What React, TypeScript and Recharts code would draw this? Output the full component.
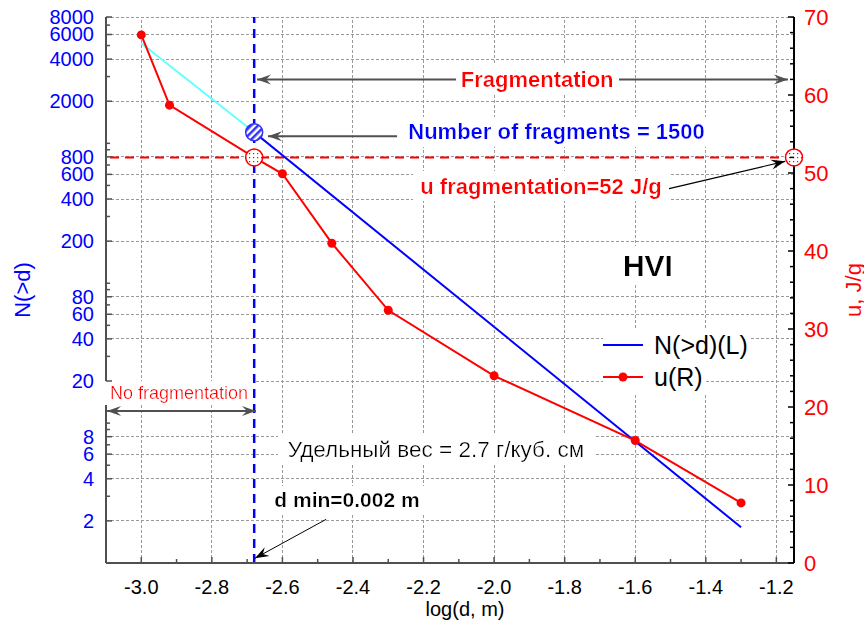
import React from "react"
import {
  Legend,
  Line,
  LineChart,
  ReferenceDot,
  ReferenceLine,
  XAxis,
  YAxis,
} from "recharts"

const FONT = "'Liberation Sans', Arial, sans-serif"
const RED = "#ff0000"
const BLUE = "#0000ff"
const CYAN = "#66ffff"
const AXIS = "#505050"
const GRID = "#9a9a9a"

// specific energy u (J/g) against log(d, m)
const uX = [-3.0, -2.92, -2.68, -2.6, -2.46, -2.3, -2.0, -1.6, -1.3]
const uValues = [67.7, 58.7, 52, 49.9, 41.0, 32.4, 24.0, 15.7, 7.7]

// cumulative number of fragments N(>d), cyan part left of d min
const nCyanX = [-3.0, -2.68]
const nCyanValues = [5200, 1200]
const nBlueX = [-2.68, -1.3]
const nBlueValues = [1200, 1.8]

const xTicks = [-3.0, -2.8, -2.6, -2.4, -2.2, -2.0, -1.8, -1.6, -1.4, -1.2]
const xMinorTicks = [-2.9, -2.7, -2.5, -2.3, -2.1, -1.9, -1.7, -1.5, -1.3]
const nTicks = [2, 4, 6, 8, 20, 40, 60, 80, 200, 400, 600, 800, 2000, 4000, 6000, 8000]
const nMinorTicks = [1, 3, 5, 7, 9, 10, 30, 50, 70, 90, 100, 300, 500, 700, 900, 1000, 3000, 5000, 7000]
const uTicks = [0, 10, 20, 30, 40, 50, 60, 70]
const uMinorTicks = [2, 4, 6, 8, 12, 14, 16, 18, 22, 24, 26, 28, 32, 34, 36, 38, 42, 44, 46, 48, 52, 54, 56, 58, 62, 64, 66, 68]

const dMin = -2.68
const uFrag = 52
const nFrag = 1200
const xEnd = -1.15

const uData = uX.map((x, i) => ({ x, u: uValues[i] }))
const cyanData = nCyanX.map((x, i) => ({ x, n: nCyanValues[i] }))
const blueData = nBlueX.map((x, i) => ({ x, n: nBlueValues[i] }))

const allX = [...xTicks, ...xMinorTicks].sort((a, b) => a - b)
const allN = [...nTicks, ...nMinorTicks].sort((a, b) => a - b)
const allU = [...uTicks, ...uMinorTicks].sort((a, b) => a - b)

// annotation arrows, in (log d, u) units of the right axis
const arrows = [
  { x1: -2.672, u1: 62, x2: -1.167, u2: 62, both: true, color: AXIS, w: 2 },
  { x1: -2.275, u1: 54.7, x2: -2.641, u2: 54.7, both: false, color: AXIS, w: 2 },
  { x1: -1.513, u1: 47.9, x2: -1.175, u2: 51.5, both: false, color: "#000", w: 1.2 },
  { x1: -3.097, u1: 19.5, x2: -2.675, u2: 19.5, both: true, color: AXIS, w: 2 },
  { x1: -2.476, u1: 5.6, x2: -2.678, u2: 0.6, both: false, color: "#000", w: 1 },
]

const notes = [
  { text: "Fragmentation", x: -1.878, u: 62, color: RED, size: 22, bold: true },
  { text: "Number of fragments = 1500", x: -1.823, u: 55.3, color: BLUE, size: 22, bold: true },
  { text: "u fragmentation=52 J/g", x: -1.867, u: 48.3, color: RED, size: 22, bold: true },
  { text: "HVI", x: -1.564, u: 38.1, color: "#000", size: 30, bold: true },
  { text: "No fragmentation", x: -2.893, u: 21.8, color: RED, size: 18, bold: false },
  { text: "Удельный вес = 2.7 г/куб. см", x: -2.165, u: 14.5, color: "#000", size: 22.5, bold: false },
  { text: "d min=0.002 m", x: -2.417, u: 8.1, color: "#000", size: 21, bold: true },
]

function BottomTick({ x, y, payload }: any) {
  const major = xTicks.includes(payload.value)
  return (
    <g>
      <line x1={x} x2={x} y1={y} y2={y - (major ? 6 : 4)} stroke={AXIS} strokeWidth={1.5} />
      {major && (
        <text x={x} y={y + 24} textAnchor="middle" dominantBaseline="central" fill="#000" fontSize={20} fontFamily={FONT}>
          {payload.value.toFixed(1)}
        </text>
      )}
    </g>
  )
}

function TopTick({ x, y, payload }: any) {
  const major = xTicks.includes(payload.value)
  return <line x1={x} x2={x} y1={y} y2={y + (major ? 6 : 4)} stroke={AXIS} strokeWidth={1.5} />
}

function LeftTick({ x, y, payload }: any) {
  const major = nTicks.includes(payload.value)
  return (
    <g>
      <line x1={x} x2={x + (major ? 6 : 4)} y1={y} y2={y} stroke={AXIS} strokeWidth={1.5} />
      {major && (
        <text x={x - 12} y={y} textAnchor="end" dominantBaseline="central" fill={BLUE} fontSize={20} fontFamily={FONT}>
          {payload.value}
        </text>
      )}
    </g>
  )
}

function RightTick({ x, y, payload }: any) {
  const major = uTicks.includes(payload.value)
  return (
    <g>
      <line x1={x} x2={x - (major ? 6 : 4)} y1={y} y2={y} stroke="#000" strokeWidth={1.5} />
      {major && (
        <text x={x + 10} y={y} textAnchor="start" dominantBaseline="central" fill={RED} fontSize={22} fontFamily={FONT}>
          {payload.value}
        </text>
      )}
    </g>
  )
}

function VTitle({ viewBox, value, color, dx }: any) {
  const cx = viewBox.x + dx
  const cy = viewBox.y + viewBox.height / 2
  return (
    <text x={cx} y={cy} transform={`rotate(-90, ${cx}, ${cy})`} textAnchor="middle" dominantBaseline="central" fill={color} fontSize={22} fontFamily={FONT}>
      {value}
    </text>
  )
}

function XTitle({ viewBox }: any) {
  return (
    <text x={viewBox.x + viewBox.width / 2 + 15} y={viewBox.y + 46} textAnchor="middle" dominantBaseline="central" fill="#000" fontSize={20} fontFamily={FONT}>
      log(d, m)
    </text>
  )
}

function head(tx: number, ty: number, fx: number, fy: number, color: string) {
  const a = Math.atan2(ty - fy, tx - fx)
  const p = (dx: number, dy: number) =>
    `${tx + dx * Math.cos(a) - dy * Math.sin(a)},${ty + dx * Math.sin(a) + dy * Math.cos(a)}`
  return <polygon points={`${p(0, 0)} ${p(-14, 5)} ${p(-9, 0)} ${p(-14, -5)}`} fill={color} />
}

function Arrow({ x1, y1, x2, y2, both, color, w }: any) {
  return (
    <g>
      <line x1={x1} y1={y1} x2={x2} y2={y2} stroke={color} strokeWidth={w} />
      {head(x2, y2, x1, y1, color)}
      {both && head(x1, y1, x2, y2, color)}
    </g>
  )
}

// grid line through a major tick, snapped to whole pixels
function GridLine(p: any) {
  const snap = (v: number) => Math.floor(v) + 0.5
  const vertical = Math.abs(p.x1 - p.x2) < 0.01
  const x1 = vertical ? snap(p.x1) : p.x1
  const x2 = vertical ? snap(p.x2) : p.x2
  const y1 = vertical ? p.y1 : snap(p.y1)
  const y2 = vertical ? p.y2 : snap(p.y2)
  return <line x1={x1} y1={y1} x2={x2} y2={y2} stroke={GRID} strokeWidth={1} strokeDasharray="3 2" />
}

// the d min point is covered by the big dotted circle, so no marker there
function UDot(props: any) {
  const { cx, cy, payload, index } = props
  if (payload.x === dMin) return <g key={"d" + index} />
  return <circle key={"d" + index} cx={cx} cy={cy} r={4.5} fill={RED} />
}

function LegendBox({ payload }: any) {
  const items = (payload ?? []).filter((p: any) => p.type !== "none")
  items.sort((a: any, b: any) => (a.value === "u(R)" ? 1 : 0) - (b.value === "u(R)" ? 1 : 0))
  return (
    <div style={{ fontFamily: FONT, fontSize: 25, lineHeight: "32px", color: "#000" }}>
      {items.map((item: any) => (
        <div key={item.value} style={{ display: "flex", alignItems: "center", background: "#fff", width: "fit-content", paddingRight: 3 }}>
          <svg width={40} height={32} style={{ marginRight: 11 }}>
            <line x1={0} x2={40} y1={16} y2={16} stroke={item.color} strokeWidth={2} />
            {item.value === "u(R)" && <circle cx={20} cy={16} r={4.5} fill={item.color} />}
          </svg>
          <span>{item.value}</span>
        </div>
      ))}
    </div>
  )
}

export default function App() {
  return (
    <div style={{ position: "absolute", left: 0, top: 0, background: "#fff" }}>
      <LineChart width={864} height={626} margin={{ top: 17, right: 10, bottom: 23, left: 8 }}>
        <defs>
          <pattern id="redDots" width="4" height="4" patternUnits="userSpaceOnUse">
            <rect width="4" height="4" fill="#fff" />
            <rect x="1" y="1" width="1.2" height="1.2" fill={RED} />
          </pattern>
          <pattern id="blueHatch" width="5" height="5" patternUnits="userSpaceOnUse" patternTransform="rotate(45)">
            <rect width="5" height="5" fill="#fff" />
            <rect width="2.5" height="5" fill="#3333ff" />
          </pattern>
          <filter id="textBg" x="-0.03" y="-0.08" width="1.06" height="1.16">
            <feFlood floodColor="#fff" />
            <feComposite in="SourceGraphic" operator="over" />
          </filter>
        </defs>
        <XAxis
          xAxisId="x"
          type="number"
          dataKey="x"
          domain={[-3.1, xEnd]}
          allowDataOverflow
          ticks={allX}
          interval={0}
          tickSize={0}
          tickMargin={0}
          tick={<BottomTick />}
          axisLine={{ stroke: AXIS, strokeWidth: 2 }}
          height={40}
          label={<XTitle />}
        />
        <XAxis
          xAxisId="top"
          orientation="top"
          type="number"
          domain={[-3.1, xEnd]}
          allowDataOverflow
          ticks={allX}
          interval={0}
          tickSize={0}
          tickMargin={0}
          tick={<TopTick />}
          axisLine={{ stroke: AXIS, strokeWidth: 2 }}
          height={0}
        />
        <YAxis
          yAxisId="left"
          type="number"
          scale="log"
          domain={[1, 8000]}
          allowDataOverflow
          ticks={allN}
          interval={0}
          tickSize={0}
          tickMargin={0}
          tick={<LeftTick />}
          axisLine={{ stroke: AXIS, strokeWidth: 2 }}
          width={98}
          label={<VTitle value="N(>d)" color={BLUE} dx={14} />}
        />
        <YAxis
          yAxisId="right"
          orientation="right"
          type="number"
          domain={[0, 70]}
          allowDataOverflow
          ticks={allU}
          interval={0}
          tickSize={0}
          tickMargin={0}
          tick={<RightTick />}
          axisLine={{ stroke: "#000", strokeWidth: 2 }}
          width={60}
          label={<VTitle value="u, J/g" color={RED} dx={59} />}
        />
        {xTicks.map((v) => (
          <ReferenceLine key={"gx" + v} xAxisId="x" yAxisId="left" x={v} ifOverflow="visible" shape={GridLine} />
        ))}
        {nTicks.map((v) => (
          <ReferenceLine key={"gy" + v} xAxisId="x" yAxisId="left" y={v} ifOverflow="visible" shape={GridLine} />
        ))}
        <ReferenceLine xAxisId="x" yAxisId="left" x={dMin} stroke={BLUE} strokeWidth={2.5} strokeDasharray="9 6" />
        <ReferenceLine xAxisId="x" yAxisId="right" y={uFrag} stroke={RED} strokeWidth={2} strokeDasharray="9 6" />
        <Line xAxisId="x" yAxisId="left" data={cyanData} dataKey="n" stroke={CYAN} strokeWidth={2} dot={false} legendType="none" isAnimationActive={false} />
        <Line xAxisId="x" yAxisId="left" data={blueData} dataKey="n" name="N(>d)(L)" stroke={BLUE} strokeWidth={2} dot={false} isAnimationActive={false} />
        <Line
          xAxisId="x"
          yAxisId="right"
          data={uData}
          dataKey="u"
          name="u(R)"
          stroke={RED}
          strokeWidth={2}
          dot={<UDot />}
          isAnimationActive={false}
        />
        <ReferenceDot xAxisId="x" yAxisId="left" x={dMin} y={nFrag} r={8.5} fill="url(#blueHatch)" stroke="#3030ff" strokeWidth={1.5} />
        <ReferenceDot xAxisId="x" yAxisId="right" x={dMin} y={uFrag} r={8.5} fill="url(#redDots)" stroke={RED} strokeWidth={1.5} />
        <ReferenceDot xAxisId="x" yAxisId="right" x={xEnd} y={uFrag} r={8.5} fill="url(#redDots)" stroke={RED} strokeWidth={1.5} ifOverflow="visible" />
        {arrows.map((a, i) => (
          <ReferenceLine
            key={"a" + i}
            xAxisId="x"
            yAxisId="right"
            segment={[{ x: a.x1, y: a.u1 }, { x: a.x2, y: a.u2 }]}
            ifOverflow="visible"
            shape={(p: any) => <Arrow x1={p.x1} y1={p.y1} x2={p.x2} y2={p.y2} both={a.both} color={a.color} w={a.w} />}
          />
        ))}
        {notes.map((n) => (
          <ReferenceDot
            key={n.text}
            xAxisId="x"
            yAxisId="right"
            x={n.x}
            y={n.u}
            r={1}
            ifOverflow="visible"
            shape={(p: any) => (
              <text
                x={p.cx}
                y={p.cy}
                textAnchor="middle"
                dominantBaseline="central"
                fill={n.color}
                fontSize={n.size}
                fontWeight={n.bold ? 700 : 400}
                fontFamily={FONT}
                filter="url(#textBg)"
              >
                {n.text}
              </text>
            )}
          />
        ))}
        <Legend
          layout="vertical"
          align="center"
          verticalAlign="middle"
          wrapperStyle={{ left: 603, top: 329, width: "auto", height: "auto" }}
          content={<LegendBox />}
        />
      </LineChart>
    </div>
  )
}
